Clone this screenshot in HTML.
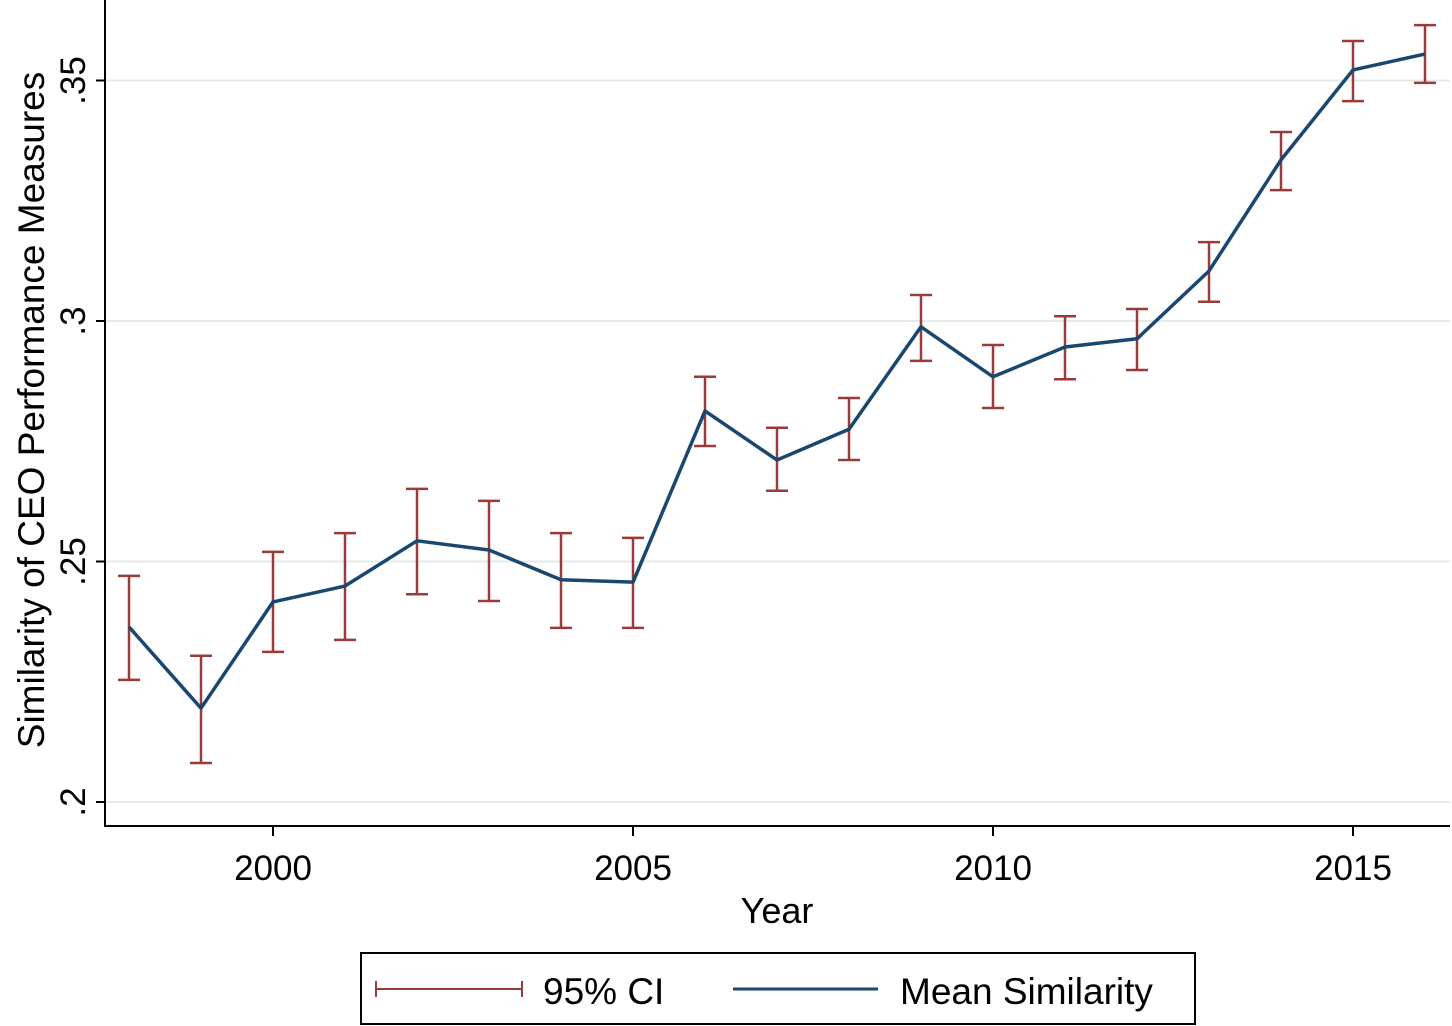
<!DOCTYPE html>
<html><head><meta charset="utf-8"><style>
html,body{margin:0;padding:0;background:#fff;}
svg{display:block;font-family:"Liberation Sans",sans-serif;}
</style></head><body>
<svg id="chart" width="1452" height="1026" viewBox="0 0 1452 1026">
<g id="grid"></g>
<g id="axes"></g>
<g id="marks"></g>
<text x="777" y="923" font-size="36" text-anchor="middle" fill="#000">Year</text>
<text transform="translate(44,410) rotate(-90)" font-size="37" text-anchor="middle" fill="#000">Similarity of CEO Performance Measures</text>
<g>
<rect x="361" y="953" width="834" height="71" fill="#fff" stroke="#000" stroke-width="2"/>
<g>
<line x1="376" y1="989" x2="522" y2="989" stroke="#9a3b3b" stroke-width="2"/>
<line x1="376" y1="981" x2="376" y2="997" stroke="#9a3b3b" stroke-width="2"/>
<line x1="522" y1="981" x2="522" y2="997" stroke="#9a3b3b" stroke-width="2"/>
<text x="543" y="1004" font-size="37" fill="#000">95% CI</text>
</g>
<g>
<line x1="733" y1="989" x2="878" y2="989" stroke="#1a476f" stroke-width="3"/>
<text x="900" y="1004" font-size="37" fill="#000">Mean Similarity</text>
</g>
</g>
</svg>
<script>
const years=[1998,1999,2000,2001,2002,2003,2004,2005,2006,2007,2008,2009,2010,2011,2012,2013,2014,2015,2016];
const meanVals=[.2364,.2195,.2416,.2449,.2543,.2524,.2462,.2457,.2813,.2711,.2775,.2988,.2884,.2946,.2963,.3104,.3335,.3522,.3555];
const ciHigh=[.247,.2304,.252,.2559,.2651,.2626,.2559,.2549,.2884,.2778,.284,.3054,.295,.301,.3025,.3164,.3393,.3582,.3615];
const ciLow=[.2254,.2081,.2312,.2337,.2432,.2418,.2362,.2362,.274,.2647,.2711,.2917,.2819,.2879,.2898,.304,.3272,.3457,.3495];
const yTicks=[.2,.25,.3,.35];
const yTickLabels=[".2",".25",".3",".35"];
const xTicks=[2000,2005,2010,2015];
const xTickLabels=["2000","2005","2010","2015"];

const X=v=>273+(v-2000)*72;
const Y=v=>802-(v-.2)*4810;
const NS="http://www.w3.org/2000/svg";
function mk(parent,tag,attrs){const e=document.createElementNS(NS,tag);for(const k in attrs)e.setAttribute(k,attrs[k]);document.getElementById(parent).appendChild(e);return e;}

yTicks.forEach((t,i)=>{
  const g=mk('grid','line',{x1:105,x2:1450,y1:Y(t),y2:Y(t),stroke:'#e3ebe8','stroke-width':2});
  
  
  const tk=mk('axes','line',{x1:96,x2:105,y1:Y(t),y2:Y(t),stroke:'#000','stroke-width':2});
  
  
  const lb=mk('axes','text',{transform:`translate(85,${Y(t)}) rotate(-90)`,'font-size':35,'text-anchor':'middle',fill:'#000'});
  lb.textContent=yTickLabels[i];
  
  
});
const ya=mk('axes','line',{x1:105,x2:105,y1:0,y2:827,stroke:'#000','stroke-width':2});


const xa=mk('axes','line',{x1:104,x2:1450,y1:826,y2:826,stroke:'#000','stroke-width':2});


xTicks.forEach((t,i)=>{
  const tk=mk('axes','line',{x1:X(t),x2:X(t),y1:826,y2:836,stroke:'#000','stroke-width':2});
  
  
  const lb=mk('axes','text',{x:X(t),y:880,'font-size':35,'text-anchor':'middle',fill:'#000'});
  lb.textContent=xTickLabels[i];
  
  
});
years.forEach((yr,i)=>{
  const x=X(yr);
  const v=mk('marks','line',{x1:x,x2:x,y1:Y(ciHigh[i]),y2:Y(ciLow[i]),stroke:'#9a3b3b','stroke-width':2.5});
  
  
  [ciHigh[i],ciLow[i]].forEach(c=>{
    const cap=mk('marks','line',{x1:x-11,x2:x+11,y1:Y(c),y2:Y(c),stroke:'#9a3b3b','stroke-width':2.5});
    
    
  });
});
const pts=years.map((yr,i)=>X(yr)+','+Y(meanVals[i])).join(' ');
const pl=mk('marks','polyline',{points:pts,fill:'none',stroke:'#1a476f','stroke-width':3.5,'stroke-linejoin':'round'});


</script>
</body></html>
